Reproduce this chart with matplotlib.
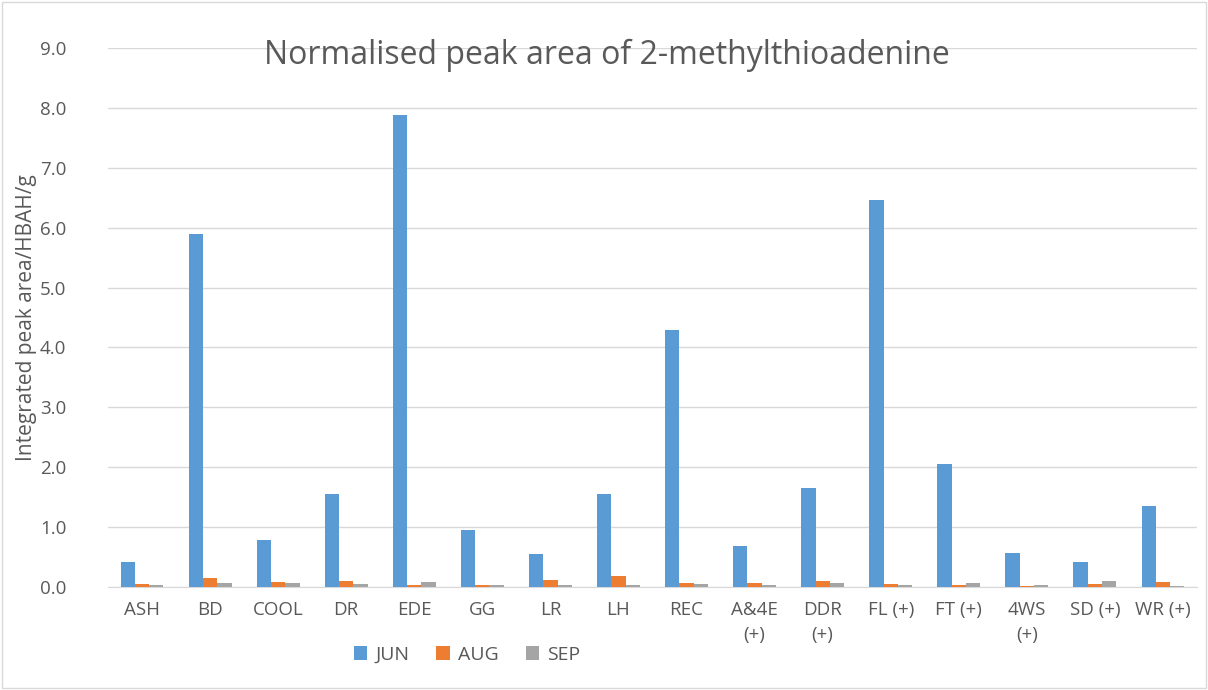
import numpy as np
import matplotlib.pyplot as plt
from matplotlib.patches import Rectangle

# datos
sitios = ['ASH', 'BD', 'COOL', 'DR', 'EDE', 'GG', 'LR', 'LH', 'REC',
          'A&4E\n(+)', 'DDR\n(+)', 'FL (+)', 'FT (+)', '4WS\n(+)', 'SD (+)', 'WR (+)']
jun = [0.42, 5.89, 0.78, 1.56, 7.88, 0.96, 0.55, 1.55, 4.29, 0.68, 1.65, 6.47, 2.05, 0.57, 0.42, 1.36]
aug = [0.05, 0.15, 0.08, 0.10, 0.04, 0.04, 0.12, 0.18, 0.07, 0.06, 0.10, 0.05, 0.03, 0.02, 0.05, 0.08]
sep = [0.03, 0.07, 0.06, 0.05, 0.09, 0.03, 0.03, 0.03, 0.05, 0.03, 0.06, 0.03, 0.06, 0.03, 0.10, 0.02]
series = ['JUN', 'AUG', 'SEP']
colores = ['#5b9bd5', '#ed7d31', '#a5a5a5']

plt.rcParams['font.family'] = ['Open Sans', 'DejaVu Sans']

fig = plt.figure(figsize=(12.08, 6.9), dpi=100)
ax = fig.add_axes([108/1208, 1-587/690, 1089/1208, 539/690])

x = np.arange(len(sitios))
ancho = 0.21
for k, (datos, nombre, c) in enumerate(zip([jun, aug, sep], series, colores)):
    ax.bar(x + (k-1)*ancho, datos, ancho, color=c, label=nombre, zorder=3)

ax.set_xlim(-0.5, len(sitios)-0.5)
ax.set_ylim(0, 9)
ax.set_yticks(np.arange(0, 10, 1))
ax.set_yticklabels(['%.1f' % v for v in np.arange(0, 10, 1)])
ax.yaxis.grid(True, color='#d9d9d9', linewidth=1, zorder=0)
ax.set_xticks(x)
ax.set_xticklabels(sitios, linespacing=1.5)
ax.tick_params(axis='both', length=0, labelsize=13.5, colors='#595959')
ax.tick_params(axis='y', pad=30)
ax.tick_params(axis='x', pad=10)
for s in ['top', 'right', 'left']:
    ax.spines[s].set_visible(False)
ax.spines['bottom'].set_color('#d9d9d9')

ax.set_ylabel('Integrated peak area/HBAH/g', fontsize=15, color='#595959')
ax.yaxis.set_label_coords(-0.065, 0.5)

fig.text(607/1208, 1-55/690, 'Normalised peak area of 2-methylthioadenine',
         fontsize=23, color='#595959', ha='center', va='center')

fig.legend(loc='center', bbox_to_anchor=(467/1208, 1-655/690), ncol=3, frameon=False,
           fontsize=14, labelcolor='#595959', handlelength=0.7, handleheight=0.7,
           handletextpad=0.4, columnspacing=1.4)

fig.patches.append(Rectangle((2/1208, 2/690), 1-4/1208, 1-4/690, transform=fig.transFigure,
                             fill=False, edgecolor='#d9d9d9', linewidth=1))

plt.savefig('out.png', dpi=100)
